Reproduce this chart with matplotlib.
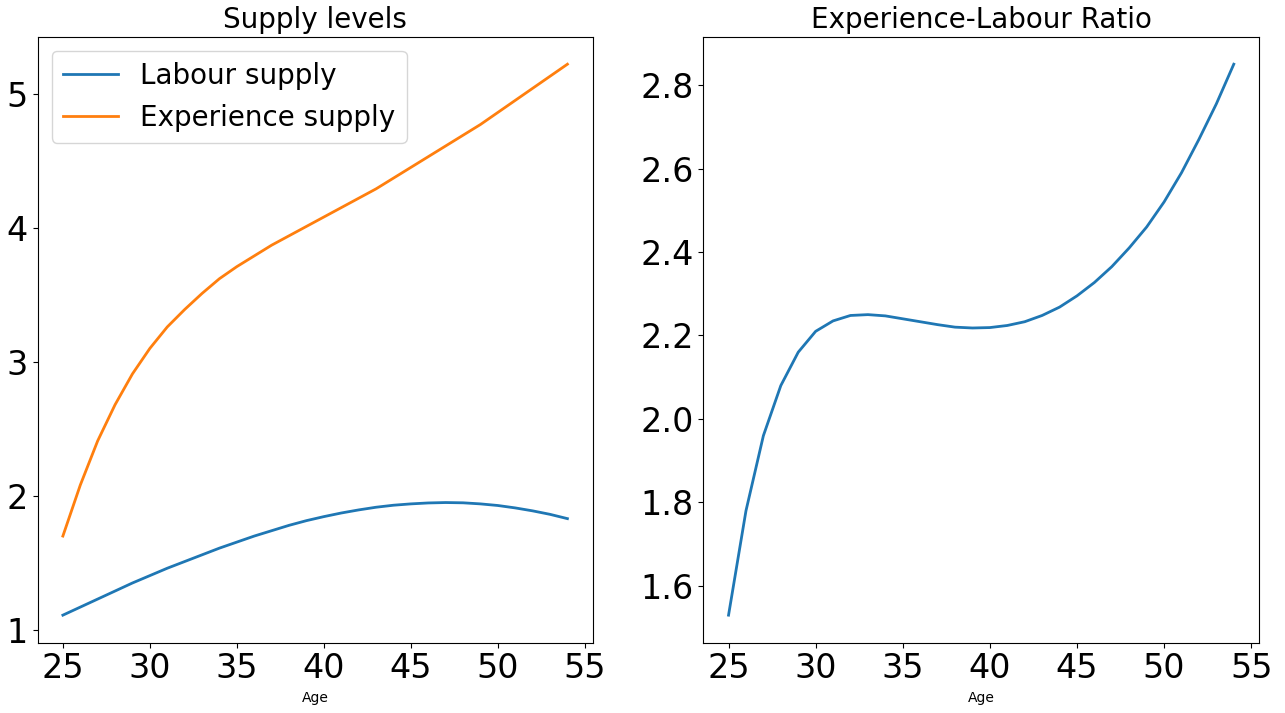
import numpy as np
import matplotlib
matplotlib.use("Agg")
import matplotlib.pyplot as plt

# ages covered by the simulation
ages = np.arange(25, 55)

labour_supply = [1.11, 1.17, 1.23, 1.29, 1.35, 1.405, 1.46, 1.51, 1.56, 1.61,
                 1.655, 1.70, 1.74, 1.78, 1.815, 1.845, 1.872, 1.895, 1.915, 1.93,
                 1.94, 1.947, 1.95, 1.948, 1.94, 1.928, 1.91, 1.888, 1.862, 1.83]

experience_supply = [1.70, 2.08, 2.41, 2.68, 2.91, 3.10, 3.26, 3.39, 3.51, 3.62,
                     3.71, 3.79, 3.87, 3.94, 4.01, 4.08, 4.15, 4.22, 4.29, 4.37,
                     4.45, 4.53, 4.61, 4.69, 4.77, 4.86, 4.95, 5.04, 5.13, 5.22]

exp_labour_ratio = [1.53, 1.78, 1.96, 2.08, 2.16, 2.21, 2.235, 2.248, 2.25, 2.247,
                    2.24, 2.233, 2.226, 2.22, 2.218, 2.219, 2.224, 2.233, 2.248, 2.268,
                    2.295, 2.327, 2.365, 2.41, 2.46, 2.52, 2.59, 2.67, 2.755, 2.85]

fig = plt.figure(figsize=(12.85, 7.13), dpi=100)
ax1 = fig.add_axes([0.0293, 0.0986, 0.4319, 0.850])
ax2 = fig.add_axes([0.5473, 0.0986, 0.4325, 0.850])

ax1.plot(ages, labour_supply, color="#1f77b4", lw=2, label="Labour supply")
ax1.plot(ages, experience_supply, color="#ff7f0e", lw=2, label="Experience supply")
ax1.set_title("Supply levels", fontsize=20)
ax1.legend(fontsize=20, loc="upper left")

ax2.plot(ages, exp_labour_ratio, color="#1f77b4", lw=2)
ax2.set_title("Experience-Labour Ratio", fontsize=20)

for ax in (ax1, ax2):
    ax.set_xlabel("Age")
    ax.tick_params(labelsize=24)
    ax.set_xticks([25, 30, 35, 40, 45, 50, 55])

ax1.set_yticks([1, 2, 3, 4, 5])
ax2.set_yticks([1.6, 1.8, 2.0, 2.2, 2.4, 2.6, 2.8])

fig.savefig("out.png", dpi=100)
